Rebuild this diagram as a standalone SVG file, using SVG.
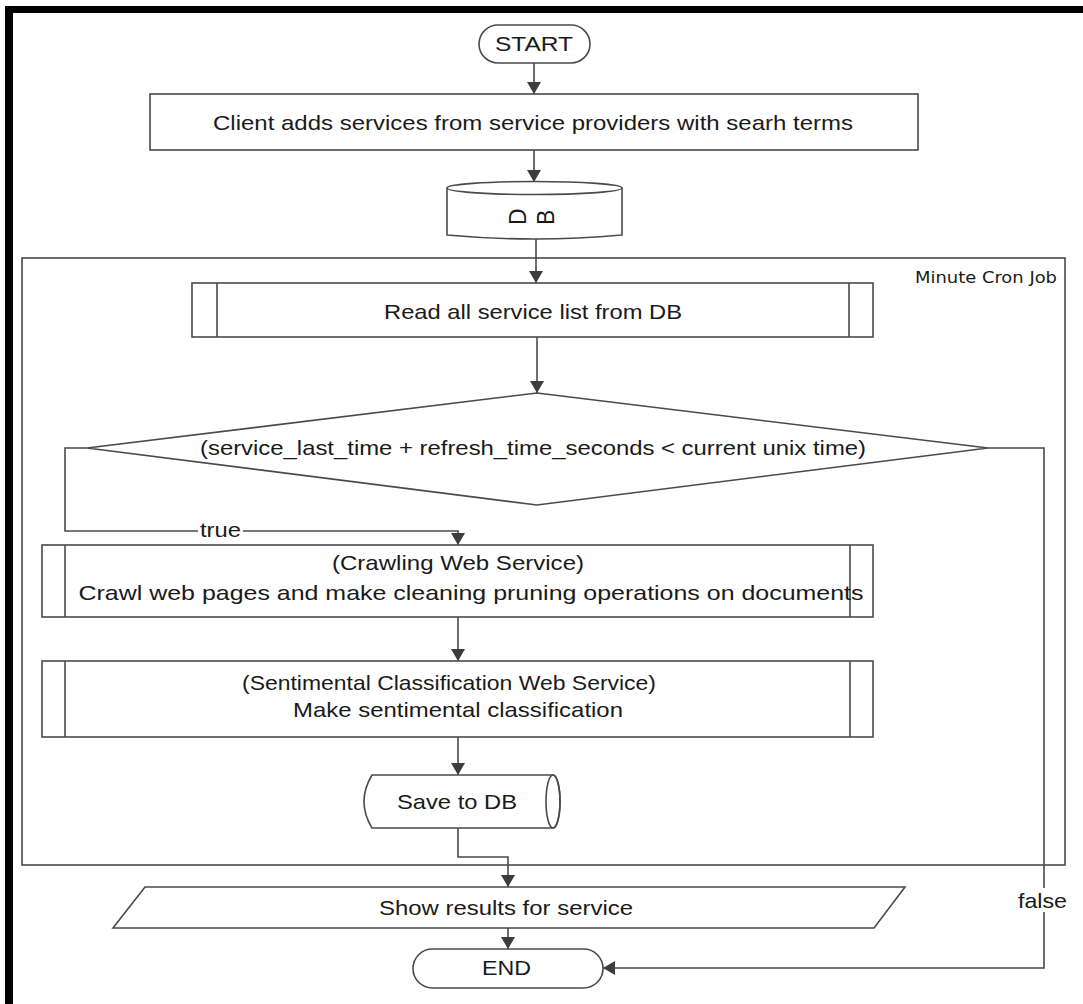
<svg xmlns="http://www.w3.org/2000/svg" width="1083" height="1004" viewBox="0 0 1083 1004">
  <style>
    .shape { fill: #ffffff; stroke: #4a4a4a; stroke-width: 1.6; }
    .line { fill: none; stroke: #4a4a4a; stroke-width: 1.6; }
    .t { font-family: "Liberation Sans", Arial, sans-serif; font-size: 21px; fill: #1a1a1a; text-anchor: middle; }
    .small { font-family: "DejaVu Sans", "Liberation Sans", sans-serif; font-size: 15px; fill: #1a1a1a; }
  </style>
  <defs>
    <marker id="arrow" viewBox="0 0 12 14" refX="12" refY="7" markerWidth="12" markerHeight="14" markerUnits="userSpaceOnUse" orient="auto">
      <path d="M0,0 L12,7 L0,14 Z" fill="#3c3c3c"/>
    </marker>
  </defs>

  <rect width="1083" height="1004" fill="#ffffff"/>
  <!-- heavy frame on top and left -->
  <rect x="5" y="6" width="1078" height="7" fill="#000000"/>
  <rect x="5" y="6" width="8" height="998" fill="#000000"/>

  <!-- cron job container -->
  <g id="cron-job">
    <rect class="shape" x="22" y="258" width="1043" height="607"/>
    <text class="small" x="915" y="283" textLength="142" lengthAdjust="spacingAndGlyphs">Minute Cron Job</text>
  </g>

  <g id="connectors">
    <line class="line" x1="534" y1="63" x2="534" y2="94" marker-end="url(#arrow)"/>
    <line class="line" x1="534" y1="150" x2="534" y2="182" marker-end="url(#arrow)"/>
    <line class="line" x1="536" y1="239" x2="536" y2="283" marker-end="url(#arrow)"/>
    <line class="line" x1="537" y1="337" x2="537" y2="393" marker-end="url(#arrow)"/>
    <!-- true branch -->
    <polyline class="line" points="87,448 65,448 65,531 458,531 458,545" marker-end="url(#arrow)"/>
    <rect x="198" y="518" width="45" height="22" fill="#ffffff"/>
    <text class="t" x="220.5" y="537" textLength="41" lengthAdjust="spacingAndGlyphs">true</text>
    <line class="line" x1="458" y1="617" x2="458" y2="661" marker-end="url(#arrow)"/>
    <line class="line" x1="458" y1="737" x2="458" y2="775" marker-end="url(#arrow)"/>
    <polyline class="line" points="458,828 458,857 508,857 508,887" marker-end="url(#arrow)"/>
    <line class="line" x1="508" y1="928" x2="508" y2="949" marker-end="url(#arrow)"/>
    <!-- false branch -->
    <polyline class="line" points="988,448 1044,448 1044,968 603,968" marker-end="url(#arrow)"/>
    <rect x="1016" y="888" width="53" height="24" fill="#ffffff"/>
    <text class="t" x="1042.5" y="908" textLength="49" lengthAdjust="spacingAndGlyphs">false</text>
  </g>

  <g id="start">
    <rect class="shape" x="479" y="25" width="111" height="38" rx="19" ry="19"/>
    <text class="t" x="534" y="51" textLength="78" lengthAdjust="spacingAndGlyphs">START</text>
  </g>

  <g id="add-services">
    <rect class="shape" x="150" y="94" width="768" height="56"/>
    <text class="t" x="533" y="130" textLength="640" lengthAdjust="spacingAndGlyphs">Client adds services from service providers with searh terms</text>
  </g>

  <g id="db">
    <path class="shape" d="M447,188 A87.5,6.5 0 0 1 622,188 L622,235 Q534.5,243 447,235 Z"/>
    <path class="line" d="M447,188 A87.5,6.5 0 0 0 622,188"/>
    <!-- each glyph turned on its side -->
    <text class="t" style="font-size:23px;text-anchor:start" x="526 554" y="225" rotate="-90">DB</text>
  </g>

  <g id="read-services">
    <rect class="shape" x="192" y="283" width="681" height="54"/>
    <line class="line" x1="217" y1="283" x2="217" y2="337"/>
    <line class="line" x1="849" y1="283" x2="849" y2="337"/>
    <text class="t" x="533" y="319" textLength="298" lengthAdjust="spacingAndGlyphs">Read all service list from DB</text>
  </g>

  <g id="refresh-check">
    <polygon class="shape" points="537,393 988,448 537,505 87,448"/>
    <text class="t" x="533" y="455" textLength="666" lengthAdjust="spacingAndGlyphs">(service_last_time + refresh_time_seconds &lt; current unix time)</text>
  </g>

  <g id="crawl">
    <rect class="shape" x="42" y="545" width="831" height="72"/>
    <line class="line" x1="65" y1="545" x2="65" y2="617"/>
    <line class="line" x1="850" y1="545" x2="850" y2="617"/>
    <text class="t" x="458" y="570" textLength="252" lengthAdjust="spacingAndGlyphs">(Crawling Web Service)</text>
    <text class="t" x="471" y="600" textLength="785" lengthAdjust="spacingAndGlyphs">Crawl web pages and make cleaning pruning operations on documents</text>
  </g>

  <g id="classify">
    <rect class="shape" x="42" y="661" width="831" height="76"/>
    <line class="line" x1="65" y1="661" x2="65" y2="737"/>
    <line class="line" x1="850" y1="661" x2="850" y2="737"/>
    <text class="t" x="449" y="690" textLength="414" lengthAdjust="spacingAndGlyphs">(Sentimental Classification Web Service)</text>
    <text class="t" x="458" y="717" textLength="330" lengthAdjust="spacingAndGlyphs">Make sentimental classification</text>
  </g>

  <g id="save-db">
    <path class="shape" d="M553,775 L372,775 Q356,801.5 372,828 L553,828 A7,26.5 0 0 0 553,775 Z"/>
    <ellipse class="line" cx="553" cy="801.5" rx="7" ry="26.5"/>
    <text class="t" x="457" y="809" textLength="120" lengthAdjust="spacingAndGlyphs">Save to DB</text>
  </g>

  <g id="show-results">
    <polygon class="shape" points="145,887 905,887 874,928 113,928"/>
    <text class="t" x="506" y="915" textLength="254" lengthAdjust="spacingAndGlyphs">Show results for service</text>
  </g>

  <g id="end">
    <rect class="shape" x="413" y="949" width="190" height="39" rx="19.5" ry="19.5"/>
    <text class="t" x="506.5" y="975" textLength="49" lengthAdjust="spacingAndGlyphs">END</text>
  </g>
</svg>
